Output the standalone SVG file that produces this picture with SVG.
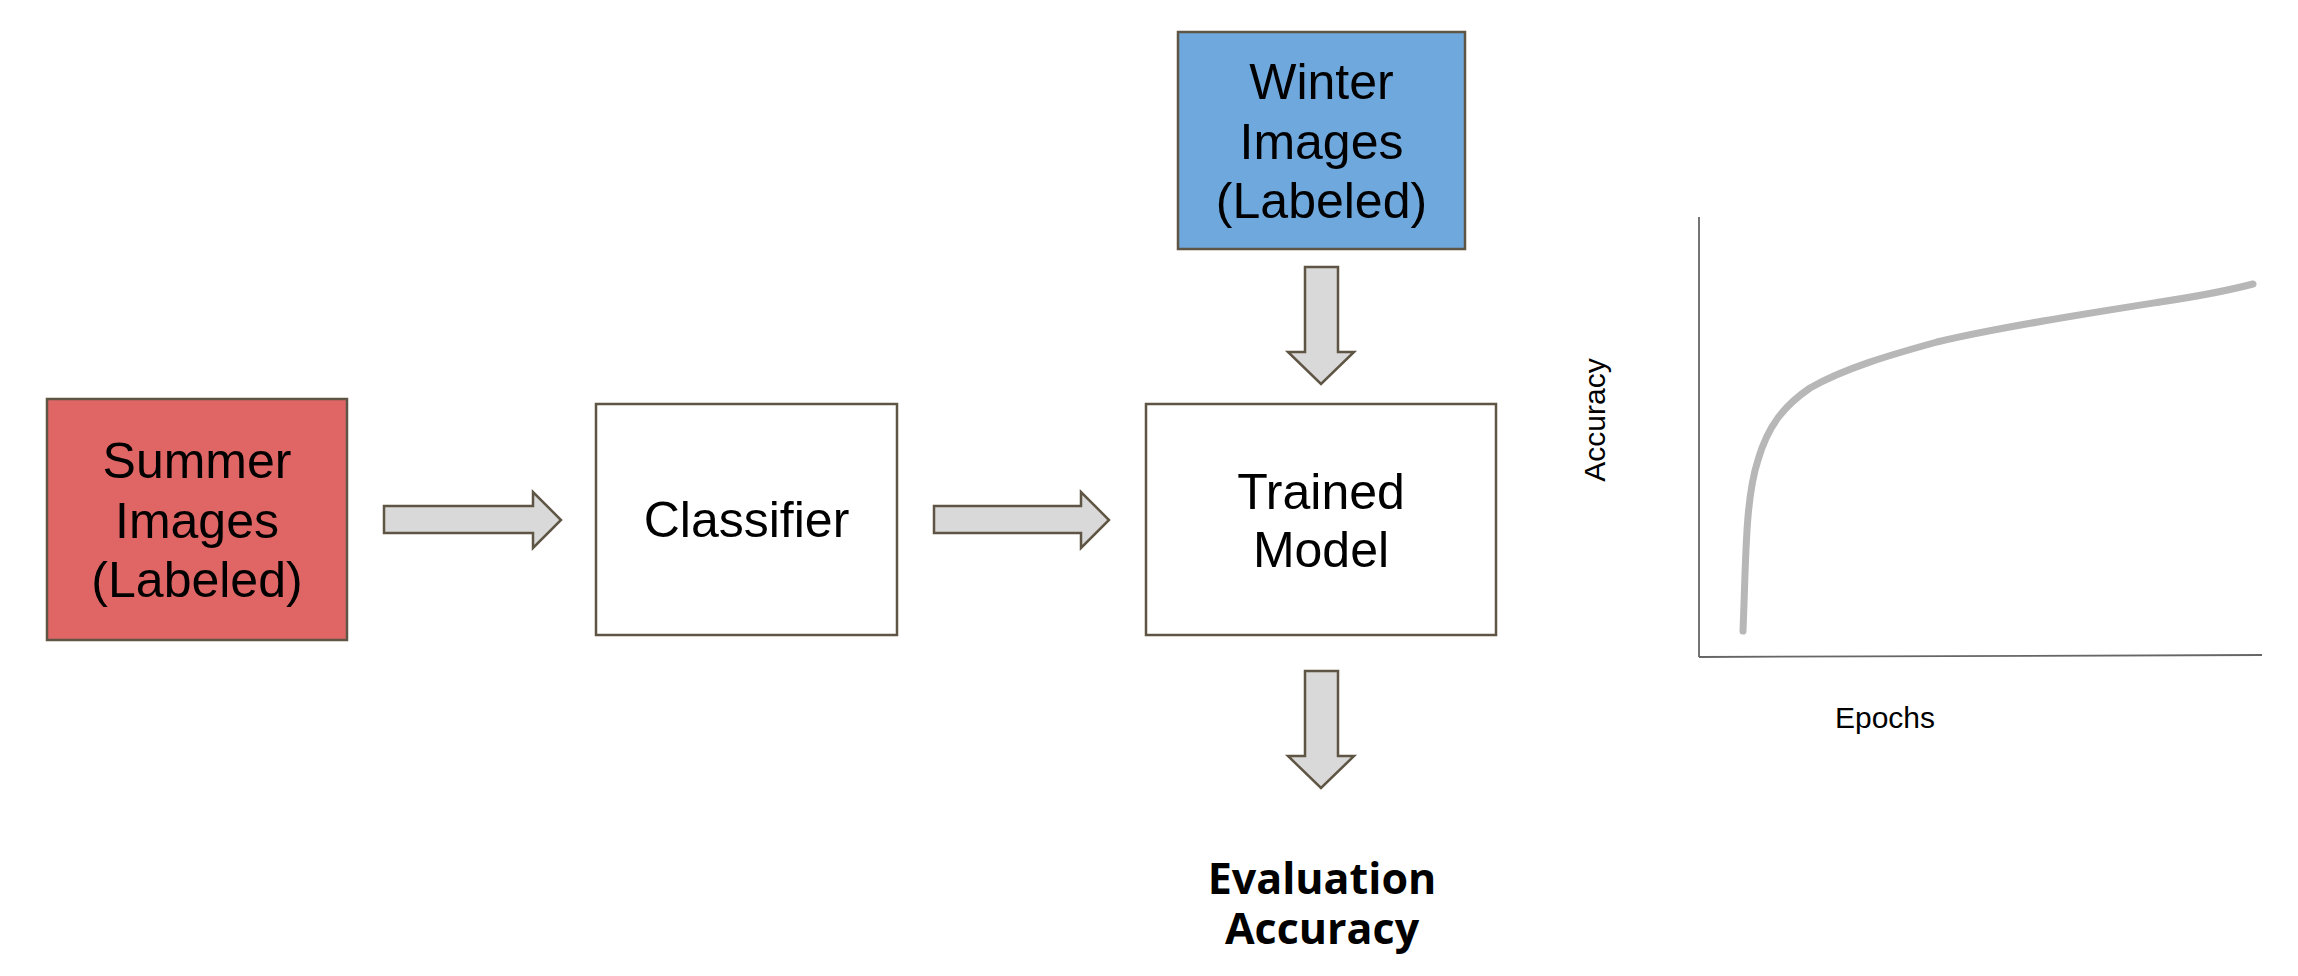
<svg xmlns="http://www.w3.org/2000/svg" width="2298" height="976" viewBox="0 0 2298 976">
<style>
.box{stroke:#5f5545;stroke-width:2.5}
.arr{fill:#d9d9d9;stroke:#5f5545;stroke-width:2.5;stroke-linejoin:miter}
.lbl{font-family:"Liberation Sans",Arial,sans-serif;font-size:50px;fill:#000;text-anchor:middle}
.ax{font-family:"Liberation Sans",Arial,sans-serif;font-size:30px;fill:#000;text-anchor:middle}
.axis{stroke:#666;stroke-width:1.8;fill:none}
.ev{font-family:"Open Sans","Noto Sans",sans-serif;font-weight:bold;font-size:43px;fill:#000;text-anchor:middle}
</style>
<rect width="2298" height="976" fill="#fff"/>
<g id="summer">
<rect class="box" x="47" y="399" width="300" height="241" fill="#e06666"/>
<text class="lbl" x="197" y="478">Summer</text>
<text class="lbl" x="197" y="538">Images</text>
<text class="lbl" x="197" y="597">(Labeled)</text>
</g>
<g id="classifier">
<rect class="box" x="596" y="404" width="301" height="231" fill="#fff"/>
<text class="lbl" x="746.5" y="537">Classifier</text>
</g>
<g id="trained">
<rect class="box" x="1146" y="404" width="350" height="231" fill="#fff"/>
<text class="lbl" x="1321" y="509">Trained</text>
<text class="lbl" x="1321" y="567">Model</text>
</g>
<g id="winter">
<rect class="box" x="1178" y="32" width="287" height="217" fill="#6fa8dc"/>
<text class="lbl" x="1321.5" y="99">Winter</text>
<text class="lbl" x="1321.5" y="159">Images</text>
<text class="lbl" x="1321.5" y="218">(Labeled)</text>
</g>
<g id="evaluation">
<text class="ev"><tspan x="1322" y="894">Evaluation</tspan><tspan x="1322" y="944">Accuracy</tspan></text>
</g>
<g id="connectors">
<polygon class="arr" points="384,506 533,506 533,492 561,520 533,548 533,533 384,533"/>
<polygon class="arr" points="934,506 1081,506 1081,492 1109,520 1081,548 1081,533 934,533"/>
<polygon class="arr" points="1305,267 1338,267 1338,352 1354,352 1321,384 1288,352 1305,352"/>
<polygon class="arr" points="1305,671 1338,671 1338,756 1354,756 1321,788 1288,756 1305,756"/>
</g>
<g id="chart">
<line class="axis" x1="1699" y1="217" x2="1699" y2="657"/>
<line class="axis" x1="1699" y1="657" x2="2262" y2="655"/>
<path d="M1743,631 C1746,560 1745,500 1758,460 C1768,425 1785,405 1810,388 C1845,368 1890,355 1937,342 C2000,327 2090,313 2160,302 C2200,296 2230,290 2253,284" fill="none" stroke="#b7b7b7" stroke-width="7" stroke-linecap="round"/>
<text class="ax" transform="translate(1605,420) rotate(-90)">Accuracy</text>
<text class="ax" x="1885" y="728">Epochs</text>
</g>
</svg>
